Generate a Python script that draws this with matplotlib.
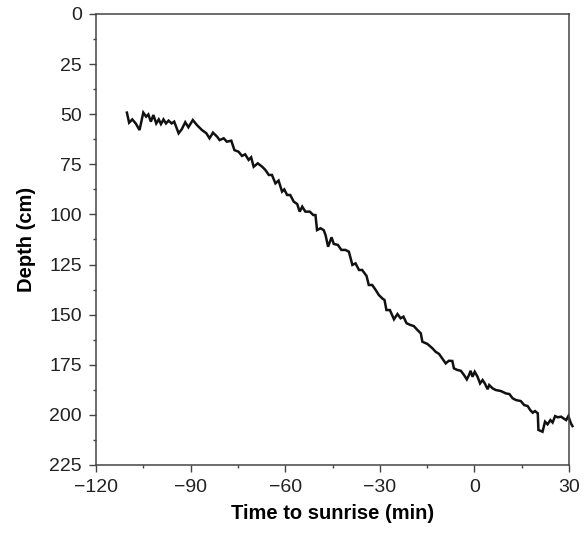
import matplotlib
matplotlib.use("Agg")
import matplotlib.pyplot as plt
from matplotlib.ticker import MultipleLocator

# Time to sunrise (min)
time_min = [-110.2, -109.5, -108.5, -107.4, -106.2, -105.0, -104.1, -103.4, -102.6, -101.8,
            -100.9, -100.1, -99.4, -98.6, -97.8, -97.0, -96.0, -95.2, -93.8, -92.8,
            -91.7, -90.7, -89.3, -88.0, -86.4, -85.0, -84.0, -82.9, -81.6, -80.8,
            -79.5, -78.5, -77.1, -76.1, -74.8, -73.7, -72.7, -71.6, -70.8, -70.0,
            -68.7, -67.3, -66.3, -65.2, -64.2, -63.1, -62.1, -61.0, -60.3, -59.4,
            -58.4, -57.3, -56.2, -55.4, -54.6, -53.6, -52.2, -51.1, -50.4, -49.9,
            -48.8, -47.8, -47.2, -46.4, -45.3, -44.6, -43.3, -42.2, -40.9, -39.8,
            -38.7, -37.7, -36.6, -35.6, -34.2, -33.5, -32.4, -31.3, -30.3, -29.2,
            -28.5, -27.9, -26.8, -25.5, -24.4, -23.4, -22.5, -21.5, -20.2, -19.2,
            -18.1, -17.0, -16.5, -14.9, -13.3, -12.3, -11.2, -10.2, -9.1, -8.1,
            -7.0, -6.5, -5.4, -4.3, -3.3, -2.4, -1.7, -1.2, -0.6, 0.1,
            1.0, 1.8, 2.6, 3.3, 4.2, 4.7, 5.8, 6.8, 8.4, 10.0,
            11.1, 12.1, 13.2, 14.7, 15.8, 16.9, 17.7, 18.5, 19.2, 20.1,
            20.3, 21.6, 22.4, 23.2, 24.1, 24.8, 25.6, 26.4, 27.5, 28.3,
            29.1, 29.8, 30.6, 31.1]

# Depth (cm)
depth_cm = [49.2, 54.2, 52.6, 54.6, 57.9, 49.2, 51.2, 50.1, 53.7, 50.4,
            54.6, 52.6, 54.9, 52.6, 54.6, 53.2, 54.6, 53.7, 59.5, 57.5,
            54.0, 56.5, 52.9, 55.4, 57.9, 59.5, 62.0, 59.2, 61.2, 62.9,
            62.0, 63.7, 63.2, 67.9, 68.7, 70.8, 70.0, 72.8, 71.5, 76.2,
            74.5, 76.2, 77.8, 80.3, 80.3, 84.5, 83.1, 88.6, 87.5, 90.3,
            90.3, 93.6, 94.8, 98.6, 96.1, 98.6, 98.6, 100.3, 100.3, 107.8,
            106.9, 107.8, 110.3, 116.1, 111.4, 114.7, 115.2, 117.7, 117.7, 118.6,
            125.2, 124.4, 127.7, 127.7, 130.7, 135.2, 135.2, 137.7, 140.2, 141.9,
            142.7, 147.7, 147.7, 152.3, 149.7, 151.8, 151.0, 154.3, 155.2, 155.7,
            157.6, 159.3, 163.5, 164.6, 166.8, 168.5, 169.6, 171.8, 174.3, 173.0,
            173.1, 176.8, 177.6, 178.0, 180.1, 182.3, 180.1, 178.0, 181.0, 178.5,
            181.0, 184.3, 182.6, 184.3, 187.2, 185.1, 186.8, 187.6, 188.1, 189.3,
            189.6, 191.7, 192.6, 193.1, 195.1, 195.6, 197.6, 198.9, 198.1, 199.2,
            207.5, 208.4, 203.4, 204.7, 202.6, 203.8, 200.6, 201.2, 200.9, 201.8,
            202.6, 200.6, 204.2, 205.6]

x_ticks = [-120, -90, -60, -30, 0, 30]
x_tick_labels = ["\u2212120", "\u221290", "\u221260", "\u221230", "0", "30"]
y_ticks = [0, 25, 50, 75, 100, 125, 150, 175, 200, 225]

plt.rcParams['font.family'] = ['Liberation Sans', 'DejaVu Sans']

fig = plt.figure(figsize=(5.84, 5.33), dpi=100)
ax = fig.add_axes([96/584, 1 - 465/533, (569 - 96)/584, (465 - 14)/533])

ax.plot(time_min, depth_cm, color='#111111', lw=1.8, clip_on=False, solid_joinstyle='miter')

ax.set_xlim(-120, 30)
ax.set_ylim(225, 0)
ax.set_xticks(x_ticks)
ax.set_xticklabels(x_tick_labels)
ax.set_yticks(y_ticks)
ax.xaxis.set_minor_locator(MultipleLocator(15))
ax.yaxis.set_minor_locator(MultipleLocator(12.5))

for s in ax.spines.values():
    s.set_color('#444444')
    s.set_linewidth(1.1)

ax.tick_params(which='major', direction='out', length=5, width=1.0, color='#444444',
               labelsize=14, labelcolor='#222222', pad=5)
ax.tick_params(which='minor', direction='out', length=2.2, width=1.0, color='#444444')
ax.tick_params(top=False, right=False, which='both')

ax.set_xlabel("Time to sunrise (min)", fontsize=14.5, fontweight='bold', labelpad=6)
ax.set_ylabel("Depth (cm)", fontsize=14.5, fontweight='bold', labelpad=10)

fig.savefig("out.png", dpi=100)
